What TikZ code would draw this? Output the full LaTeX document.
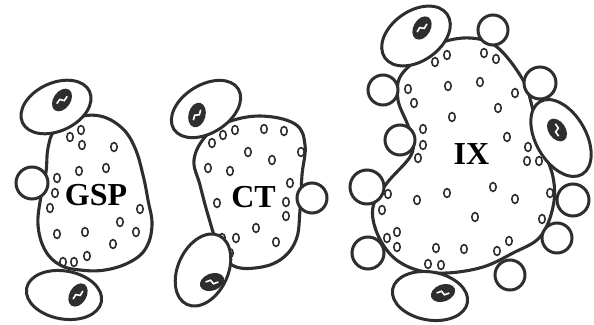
\documentclass[tikz,border=0pt]{standalone}
\usepackage{fontspec}
\setmainfont{Liberation Serif}
\usepackage{tikz}

\definecolor{ink}{HTML}{2E2E2E}

% one attached pouch: outer ellipse plus dark core with a white zigzag
\newcommand{\pouch}[6]{%
  \draw[bulb, rotate around={#4:(#1)}] (#1) ellipse ({#2} and {#3});
  \begin{scope}[shift={(#5)}, rotate=#6]
    \fill[ink] (0,0) ellipse (12.5 and 8.5);
    \draw[spark] (-6,-2.2) -- (-0.8,-2.2) -- (0.8,2.2) -- (6,2.2);
  \end{scope}}

\begin{document}
\begin{tikzpicture}[
        x=1pt,
        y=-1pt,
        membrane/.style={draw=ink, line width=3.1pt, line join=round},
        vesicle/.style={draw=ink, line width=1.6pt},
        bulb/.style={draw=ink, fill=white, line width=3pt},
        spark/.style={draw=white, line width=1.6pt, line join=miter},
        label/.style={font=\bfseries\fontsize{32}{32}\selectfont, text=black, inner sep=0pt}
    ]
    \useasboundingbox (0,0) rectangle (594,324);

    % GSP
    \draw[membrane] plot[smooth cycle, tension=0.65] coordinates {
        (55,130) (75,118) (100,116) (122,128) (135,148) (143,175) (148,200)
        (152,225) (146,248) (130,262) (105,270) (80,270) (60,265) (45,250)
        (38,225) (41,196) (46,172) (48,148)};
    \foreach \p in {(70,137),(81,130),(82,145),(114,147),(79,171),(106,168),
        (57,178),(55,193),(50,208),(140,209),(120,222),(136,232),(57,234),
        (85,232),(113,244),(63,262),(74,262),(87,256)}
        \draw[vesicle] \p ellipse (3.2 and 4.4);
    \draw[bulb] (32,183) circle (16);
    \pouch{56,107}{37}{24}{25}{62,100}{55}
    \pouch{64,295}{38}{24}{-10}{78,295}{60}
    \node[label] (gsp) at (96,195) {GSP};

    % CT
    \draw[membrane] plot[smooth cycle, tension=0.65] coordinates {
        (205,137) (225,123) (260,116) (295,124) (305,145) (302,175) (300,210)
        (296,240) (280,260) (255,268) (232,265) (218,245) (208,215) (200,185)
        (194,160)};
    \foreach \p in {(212,143),(223,135),(235,130),(264,129),(284,131),(248,152),
        (272,160),(301,152),(208,168),(230,171),(290,183),(217,203),(286,202),
        (286,216),(256,228),(222,238),(236,238),(276,242),(230,253)}
        \draw[vesicle] \p ellipse (3.2 and 4.4);
    \draw[bulb] (312,198) circle (15);
    \pouch{206,109}{38}{24}{32}{197,115}{75}
    \pouch{203,270}{38}{25}{65}{212,282}{20}
    \node[label] (ct) at (253.5,197) {CT};

    % IX
    \draw[membrane] plot[smooth cycle, tension=0.6] coordinates {
        (440,43) (470,38) (497,47) (523,80) (533,110) (540,140) (553,177)
        (553,207) (540,237) (513,253) (483,267) (447,273) (417,270) (393,257)
        (377,233) (373,207) (387,183) (410,157) (413,140) (407,123) (398,100)
        (400,77) (420,57)};
    \foreach \p in {(435,62),(447,55),(484,53),(496,59),(408,89),(414,103),
        (448,86),(480,82),(515,93),(498,108),(452,117),(423,129),(423,145),
        (418,158),(507,137),(528,147),(527,161),(539,161),(388,194),(382,210),
        (417,200),(447,193),(493,187),(515,199),(550,193),(475,217),(542,219),
        (397,232),(387,238),(397,247),(436,248),(464,249),(497,251),(509,241),
        (428,264),(441,265)}
        \draw[vesicle] \p ellipse (3.2 and 4.4);
    \foreach \cx/\cy/\r in {493/30/15,540/83/16,383/90/15,400/140/15,367/187/17,
        368/253/16,573/200/16,557/238/15,510/275/15}
        \draw[bulb] (\cx,\cy) circle (\r);
    \pouch{416,36}{38}{25}{35}{422,28}{60}
    \pouch{561,138}{42}{25}{-60}{557,130}{-55}
    \pouch{430,296}{38}{24}{-10}{443,293}{20}
    \node[label] (ix) at (471.5,154) {IX};
\end{tikzpicture}
\end{document}
